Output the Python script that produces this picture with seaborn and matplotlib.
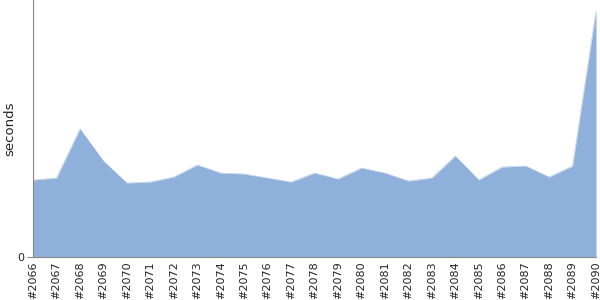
import matplotlib
matplotlib.use("Agg")
import matplotlib.pyplot as plt
import seaborn as sns
import pandas as pd

builds = ["#2066", "#2067", "#2068", "#2069", "#2070", "#2071", "#2072", "#2073",
          "#2074", "#2075", "#2076", "#2077", "#2078", "#2079", "#2080", "#2081",
          "#2082", "#2083", "#2084", "#2085", "#2086", "#2087", "#2088", "#2089",
          "#2090"]
seconds = [7.7, 7.9, 12.8, 9.6, 7.4, 7.5, 8.0, 9.2,
           8.4, 8.3, 7.9, 7.5, 8.4, 7.8, 8.9, 8.4,
           7.6, 7.9, 10.1, 7.7, 9.0, 9.1, 8.0, 9.1,
           24.6]

df = pd.DataFrame({"build": builds, "seconds": seconds})
df["idx"] = range(len(builds))

sns.set_style("white")
fig = plt.figure(figsize=(6, 3), dpi=100)
ax = fig.add_axes([33/600, 43/300, 563/600, 257/300])

sns.lineplot(data=df, x="idx", y="seconds", ax=ax, color="#8fb0da", linewidth=0.3)
ax.fill_between(df["idx"], df["seconds"], color="#8fb0da", linewidth=0)

ax.set_xlim(0, len(builds) - 1)
ax.set_ylim(0, 25.7)
ax.set_xticks(df["idx"])
ax.set_xticklabels(builds, rotation=90, fontsize=8, color="#222222")
ax.set_yticks([0])
ax.set_yticklabels(["0"], fontsize=8, color="#222222")
ax.set_xlabel("")
ax.set_ylabel("seconds", fontsize=9.5, color="#222222")
ax.yaxis.set_label_coords(-17/563, 0.5)
ax.tick_params(axis="x", length=0, pad=3)
ax.tick_params(axis="y", length=4, color="#888888", pad=2, left=True)
for s in ["top", "right"]:
    ax.spines[s].set_visible(False)
ax.spines["left"].set_color("#888888")
ax.spines["bottom"].set_color("#888888")
ax.spines["left"].set_linewidth(0.8)
ax.spines["bottom"].set_linewidth(0.8)

fig.savefig("out.png", dpi=100)
